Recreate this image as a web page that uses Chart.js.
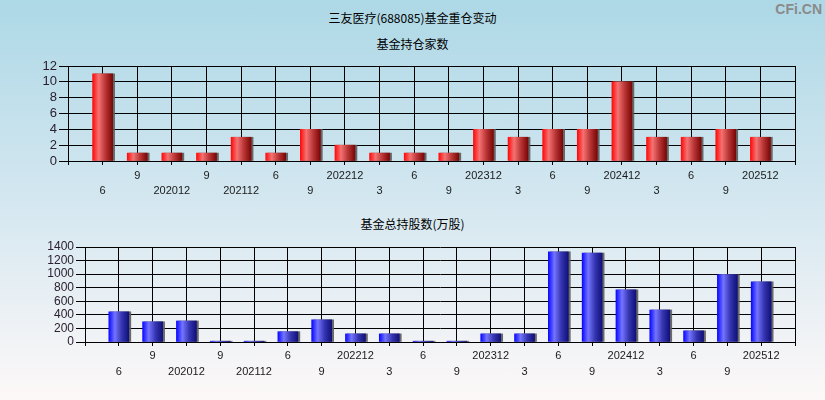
<!DOCTYPE html>
<html>
<head>
<meta charset="utf-8">
<script src="https://cdn.jsdelivr.net/npm/chart.js@4.4.1/dist/chart.umd.min.js"></script>
<style>
  body {
    margin: 0;
    width: 825px;
    height: 400px;
    overflow: hidden;
    position: relative;
    background: linear-gradient(to bottom, #add8e6 0%, #d4e7f0 50%, #fdf8f8 100%);
  }
  .title {
    position: absolute;
    left: 0;
    width: 825px;
    text-align: center;
    font-family: "Noto Sans CJK SC", sans-serif;
    font-size: 12px;
    color: #000;
  }
  .logo {
    position: absolute;
    right: 3px;
    top: 1px;
    font-family: "Liberation Sans", Arial, sans-serif;
    font-weight: bold;
    font-size: 14px;
    color: #8a8a8a;
  }
  canvas { position: absolute; left: 0; }
</style>
</head>
<body>
<div class="logo">CFi.CN</div>
<div class="title" style="top:9px">三友医疗(688085)基金重仓变动</div>
<div class="title" style="top:35px">基金持仓家数</div>
<div class="title" style="top:215px">基金总持股数(万股)</div>
<canvas id="countChart" width="825" height="200" style="top:0"></canvas>
<canvas id="shareChart" width="825" height="200" style="top:200px"></canvas>

<script>
// report periods (two staggered label rows under the bars)
const periods = ['6', '9', '202012', '9', '202112', '6', '9', '202212', '3', '6',
                 '9', '202312', '3', '6', '9', '202412', '3', '6', '9', '202512'];
// number of funds holding
const fundCounts = [11, 1, 1, 1, 3, 1, 4, 2, 1, 1, 1, 4, 3, 4, 4, 10, 3, 3, 4, 3];
// total shares held by funds (10k shares)
const fundShares = [445, 298, 310, 12, 12, 152, 327, 120, 120, 12, 12, 120, 120, 1328, 1312, 770, 472, 165, 995, 887];
const countTicks = [0, 2, 4, 6, 8, 10, 12];
const shareTicks = [0, 200, 400, 600, 800, 1000, 1200, 1400];

const redStops = ['#ff0a0a', '#f47272', '#b83434', '#7a0606'];
const blueStops = ['#0a0aff', '#7474ff', '#3434b0', '#10107a'];

function barFill(stops) {
  return function (c) {
    if (c.type !== 'data') return stops[0];
    const chart = c.chart;
    const x = chart.scales.x;
    if (!x) return stops[0];
    const cx = x.getPixelForValue(c.dataIndex + 1);
    if (!isFinite(cx)) return stops[0];
    const g = chart.ctx.createLinearGradient(cx - 10, 0, cx + 10, 0);
    g.addColorStop(0, stops[0]);
    g.addColorStop(0.3, stops[1]);
    g.addColorStop(0.65, stops[2]);
    g.addColorStop(1, stops[3]);
    return g;
  };
}

const barShadow = {
  id: 'barShadow',
  beforeDatasetsDraw(chart) {
    const ctx = chart.ctx;
    ctx.save();
    ctx.shadowColor = 'rgba(90,90,90,0.9)';
    ctx.shadowOffsetX = 2;
    ctx.shadowOffsetY = 0;
    ctx.shadowBlur = 0;
  },
  afterDatasetsDraw(chart) {
    chart.ctx.restore();
  }
};

function makeChart(id, values, yTicks, stops, opt) {
  const points = values.map((v, i) => ({ x: i + 1, y: v }));
  const chart = new Chart(document.getElementById(id), {
    type: 'bar',
    data: {
      datasets: [{
        data: points,
        backgroundColor: barFill(stops),
        borderWidth: 0,
        barThickness: 20
      }]
    },
    plugins: [barShadow],
    options: {
      responsive: false,
      animation: false,
      layout: { padding: { top: opt.top, right: 30, left: 0, bottom: 0 } },
      plugins: { legend: { display: false }, tooltip: { enabled: false } },
      scales: {
        x: {
          type: 'linear',
          offset: false,
          min: 0,
          max: periods.length + 1,
          afterFit: s => { s.height = opt.xHeight; },
          afterBuildTicks: s => {
            s.ticks = [];
            for (let i = 0; i <= periods.length + 1; i++) s.ticks.push({ value: i });
          },
          grid: { offset: false, color: '#000', lineWidth: 1, tickLength: 4, tickColor: '#000' },
          border: { color: '#000', width: 1 },
          ticks: {
            autoSkip: false,
            maxRotation: 0,
            minRotation: 0,
            padding: opt.xPad,
            color: '#1a1a1a',
            font: { family: 'Liberation Sans, Arial, sans-serif', size: 11, lineHeight: opt.lineH / 11 },
            callback: v => {
              const idx = v - 1;
              if (idx < 0 || idx >= periods.length) return '';
              return idx % 2 === 0 ? ['', periods[idx]] : periods[idx];
            }
          }
        },
        y: {
          min: yTicks[0],
          max: yTicks[yTicks.length - 1],
          afterFit: s => { s.width = opt.yWidth; },
          afterBuildTicks: s => { s.ticks = yTicks.map(v => ({ value: v })); },
          grid: { color: '#000', lineWidth: 1, tickLength: 9, tickColor: '#000' },
          border: { color: '#000', width: 1 },
          ticks: {
            autoSkip: false,
            padding: 2,
            color: '#2a2030',
            font: { family: 'Liberation Sans, Arial, sans-serif', size: opt.ySize },
            callback: v => String(v)
          }
        }
      }
    }
  });
  chart.update('none');
  return chart;
}

makeChart('countChart', fundCounts, countTicks, redStops,
  { top: 66, xHeight: 39, yWidth: 68, xPad: 3, lineH: 15, ySize: 13 });
makeChart('shareChart', fundShares, shareTicks, blueStops,
  { top: 47, xHeight: 58, yWidth: 85, xPad: 2, lineH: 16, ySize: 12 });
</script>
</body>
</html>
